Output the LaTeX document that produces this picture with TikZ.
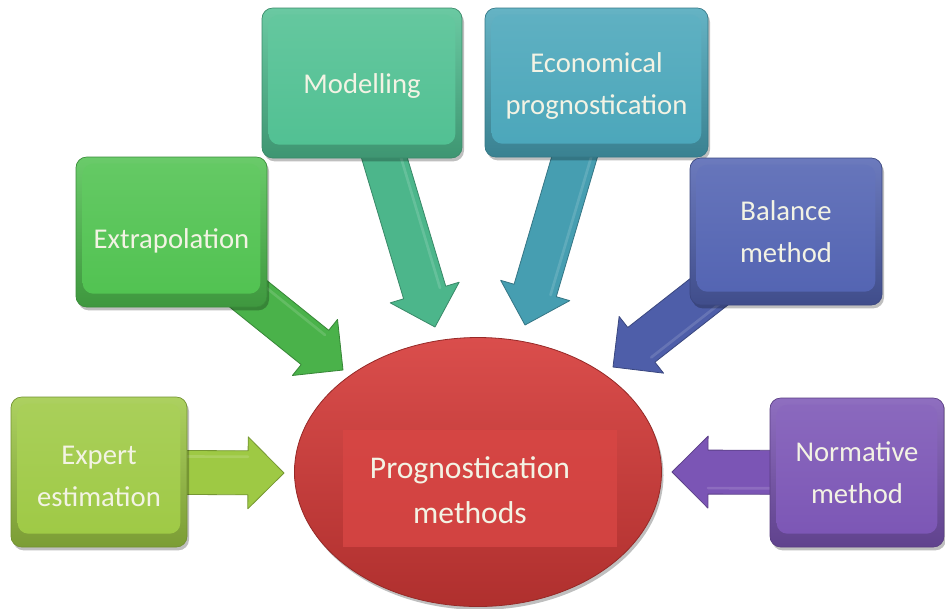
\documentclass[tikz,border=0pt]{standalone}
\usepackage{fontspec}
\setmainfont{Carlito}
\usetikzlibrary{calc,shadows,backgrounds,shapes.geometric}
\definecolor{txt}{RGB}{243,243,228}
\definecolor{cExp}{RGB}{158,201,68}
\definecolor{cExt}{RGB}{80,194,80}
\definecolor{cMod}{RGB}{80,192,146}
\definecolor{cEco}{RGB}{74,166,186}
\definecolor{cBal}{RGB}{82,99,178}
\definecolor{cNor}{RGB}{123,85,181}
\definecolor{cRed}{RGB}{214,58,56}

\newcommand\blockarr[3]{%
  \coordinate (bah) at ($(#2)!27pt!(#1)$);
  \filldraw[fill=#3, draw=#3!75!black, line width=0.6pt, line join=round]
    ($(#1)!16.5pt!90:(#2)$) -- ($(bah)!16.5pt!90:(#2)$) -- ($(bah)!27pt!90:(#2)$)
    -- (#2) -- ($(bah)!27pt!-90:(#2)$) -- ($(bah)!16.5pt!-90:(#2)$)
    -- ($(#1)!16.5pt!-90:(#2)$) -- cycle;
  \draw[#3!60!white, line width=2pt, line cap=round, opacity=0.35]
    ($(#1)!12pt!90:(#2)$) -- ($(bah)!12pt!90:(#2)$);
}
\newcommand\lowr[2]{\raisebox{-#1}[\height][\depth]{#2}}

\tikzset{
  mbox/.style={rectangle, rounded corners=8pt, draw=#1!72!black, line width=0.5pt,
    top color=#1!85!white, bottom color=#1!78!black,
    text=txt, font=\fontsize{21.5}{31.5}\selectfont, align=center,
    drop shadow={shadow xshift=1.5pt, shadow yshift=-2.5pt, opacity=0.25, fill=black},
    path picture={\shade[top color=#1!88!white, bottom color=#1]
      ([xshift=5pt,yshift=-5pt]path picture bounding box.north west) rectangle
      ([xshift=-5pt,yshift=10pt]path picture bounding box.south east);}},
  progshape/.style={ellipse, inner sep=0pt, minimum width=275.25pt, minimum height=201.75pt,
    draw=cRed!70!black, line width=0.6pt,
    top color=cRed!90!white, middle color=cRed, bottom color=cRed!82!black,
    drop shadow={shadow xshift=1.5pt, shadow yshift=-2.5pt, opacity=0.25, fill=black},
    path picture={\fill[cRed!94!white, opacity=0.8]
      ($(path picture bounding box.center)+(-135,-42)$) rectangle
      ($(path picture bounding box.center)+(139,75)$);}},
  progtext/.style={text=txt, font=\fontsize{23.7}{34}\selectfont, align=center},
}

\begin{document}
\begin{tikzpicture}[x=0.75pt, y=-0.75pt]
\useasboundingbox (0,0) rectangle (945,608);

\node[mbox=cExp, minimum width=132pt, minimum height=112.5pt] (expert) at (99,472) {\lowr{3pt}{Expert}\\\lowr{3pt}{estimation}};
\node[mbox=cExt, minimum width=143.25pt, minimum height=112.5pt] (extrap) at (171.5,232) {\lowr{7pt}{Extrapolation}};
\node[mbox=cMod, minimum width=150pt, minimum height=112.5pt] (model) at (362,83) {\lowr{2.5pt}{Modelling}};
\node[mbox=cEco, minimum width=167.25pt, minimum height=111.75pt] (econ) at (596.5,82.5) {\lowr{3pt}{Economical}\\\lowr{3pt}{prognostication}};
\node[mbox=cBal, minimum width=144pt, minimum height=110.25pt] (balance) at (786,231.5) {Balance\\method};
\node[mbox=cNor, minimum width=130.5pt, minimum height=111.75pt] (norm) at (857,472.5) {Normative\\method};

\node[progshape] (prog) at (478,472) {};
\node[progtext] (progtxt) at (470,490) {Prognostication\\methods};

\coordinate (tExp) at (284,473);
\coordinate (tExt) at (343,370);
\coordinate (tMod) at (435,327);
\coordinate (tEco) at (525,325);
\coordinate (tBal) at (613,367);
\coordinate (tNor) at (672,472);

\begin{pgfonlayer}{background}
\fill[white] (0,0) rectangle (945,608);
\blockarr{expert.center}{tExp}{cExp}
\blockarr{extrap.center}{tExt}{cExt!92!black}
\blockarr{model.center}{tMod}{cMod!95!black}
\blockarr{econ.center}{tEco}{cEco!95!black}
\blockarr{balance.center}{tBal}{cBal!95!black}
\blockarr{norm.center}{tNor}{cNor}
\end{pgfonlayer}
\end{tikzpicture}
\end{document}
